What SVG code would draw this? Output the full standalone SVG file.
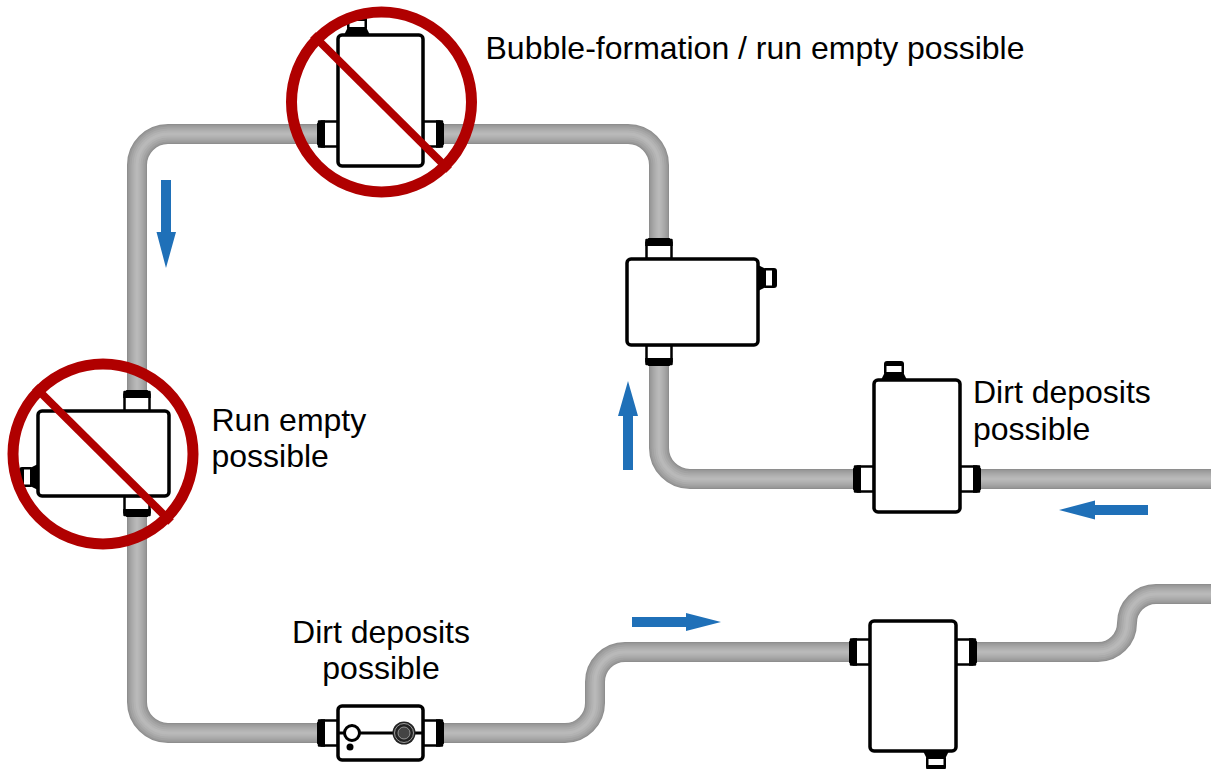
<svg xmlns="http://www.w3.org/2000/svg" xmlns:xlink="http://www.w3.org/1999/xlink" width="1211" height="769" viewBox="0 0 1211 769">
<style>
text{font-family:"Liberation Sans",Arial,sans-serif;font-size:32px;fill:#000}
.p1,.p2,.p3,.p4,.p5,.p6{fill:none}
.p1{stroke:#8e8e8e;stroke-width:20}
.p2{stroke:#989898;stroke-width:18}
.p3{stroke:#a2a2a2;stroke-width:15}
.p4{stroke:#ababab;stroke-width:11}
.p5{stroke:#b3b3b3;stroke-width:7}
.p6{stroke:#b9b9b9;stroke-width:3}
.body{fill:#fff;stroke:#000;stroke-width:3.5}
.ring{fill:none;stroke:#b00000;stroke-width:11}
.slash{stroke:#b00000;stroke-width:8}
.arrow{fill:#1f70b8}
</style>
<defs>
<g id="big">
<path d="M-12.500-19 L12.500-19 L12.500 0 L-12.500 0 Z" fill="#fff" stroke="#000" stroke-width="2.500" stroke-linejoin="round"/>
<path d="M-10.500-21 L10.500-21 L13.800-17 L13.800-13 L-13.800-13 L-13.800-17 Z" fill="#000"/>
</g>
<g id="small">
<rect x="-10" y="-19" width="20" height="15" rx="3" fill="#000"/>
<rect x="-7.500" y="-14" width="15" height="6" fill="#fff"/>
<path d="M-10-6 L10-6 L13 0 L-13 0 Z" fill="#000"/>
</g>
<path id="pipe" d="M1211 479 H690 A31 31 0 0 1 659 448 V165 A31 31 0 0 0 628 134 H168 A31 31 0 0 0 137 165 V702 A31 31 0 0 0 168 733 H565 A30 30 0 0 0 595 703 V682 A30 30 0 0 1 625 652 H1098 A29 29 0 0 0 1127 623 A29 29 0 0 1 1156 594 H1211"/>
</defs>
<g id="connectors">
<use xlink:href="#pipe" class="p1"/>
<use xlink:href="#pipe" class="p2"/>
<use xlink:href="#pipe" class="p3"/>
<use xlink:href="#pipe" class="p4"/>
<use xlink:href="#pipe" class="p5"/>
<use xlink:href="#pipe" class="p6"/>
<path class="arrow" d="M161 180H171V232H176L166 268L156.500 232H161Z"/>
<path class="arrow" d="M623 470V416H618L628 381L638 416H633V470Z"/>
<path class="arrow" d="M1148 505V515H1095V519.500L1059 510L1095 500.500V505Z"/>
<path class="arrow" d="M632 617H686V613L721 622L686 631V627H632Z"/>
</g>
<g id="node-top">
<use xlink:href="#small" transform="translate(357,35)"/>
<use xlink:href="#big" transform="translate(338,134) rotate(-90)"/>
<use xlink:href="#big" transform="translate(423,134) rotate(90)"/>
<rect class="body" x="338" y="35" width="85" height="131" rx="4"/>
<circle class="ring" cx="381.500" cy="102" r="90"/>
<line class="slash" x1="313" y1="35" x2="449" y2="170"/>
</g>
<g id="node-right-upper">
<use xlink:href="#big" transform="translate(659,259)"/>
<use xlink:href="#big" transform="translate(659,345) rotate(180)"/>
<use xlink:href="#small" transform="translate(758,278) rotate(90)"/>
<rect class="body" x="627" y="259" width="131" height="86" rx="4"/>
</g>
<g id="node-left">
<use xlink:href="#big" transform="translate(137,411)"/>
<use xlink:href="#big" transform="translate(137,496) rotate(180)"/>
<use xlink:href="#small" transform="translate(38,477) rotate(-90)"/>
<rect class="body" x="38" y="411" width="131" height="85" rx="4"/>
<circle class="ring" cx="103" cy="454" r="90"/>
<line class="slash" x1="35" y1="387" x2="171" y2="522"/>
</g>
<g id="node-right-mid">
<use xlink:href="#small" transform="translate(894,380)"/>
<use xlink:href="#big" transform="translate(874,479) rotate(-90)"/>
<use xlink:href="#big" transform="translate(960,479) rotate(90)"/>
<rect class="body" x="874" y="380" width="86" height="132" rx="4"/>
</g>
<g id="node-bottom-right">
<use xlink:href="#small" transform="translate(936,751) rotate(180)"/>
<use xlink:href="#big" transform="translate(870,652) rotate(-90)"/>
<use xlink:href="#big" transform="translate(956,652) rotate(90)"/>
<rect class="body" x="870" y="621" width="86" height="130" rx="4"/>
</g>
<g id="node-sensor">
<use xlink:href="#big" transform="translate(338,733) rotate(-90)"/>
<use xlink:href="#big" transform="translate(423,733) rotate(90)"/>
<rect class="body" x="338" y="706" width="85" height="54" rx="4"/>
<line x1="338" y1="733" x2="423" y2="733" stroke="#000" stroke-width="3"/>
<circle cx="352" cy="733" r="7.500" fill="#fff" stroke="#000" stroke-width="3"/>
<circle cx="350" cy="747" r="3.500" fill="#000"/>
<circle cx="404" cy="733" r="11.500" fill="#222"/>
<circle cx="404" cy="733" r="9.500" fill="none" stroke="#bbb" stroke-width="0.800"/>
<circle cx="404" cy="733" r="6" fill="#444" stroke="#aaa" stroke-width="0.800"/>
</g>
<text x="485.500" y="59">Bubble-formation / run empty possible</text>
<text x="211.500" y="431">Run empty</text>
<text x="211.500" y="467">possible</text>
<text x="973" y="403">Dirt deposits</text>
<text x="973" y="440">possible</text>
<text x="381" y="643" text-anchor="middle">Dirt deposits</text>
<text x="381" y="679" text-anchor="middle">possible</text>
</svg>
